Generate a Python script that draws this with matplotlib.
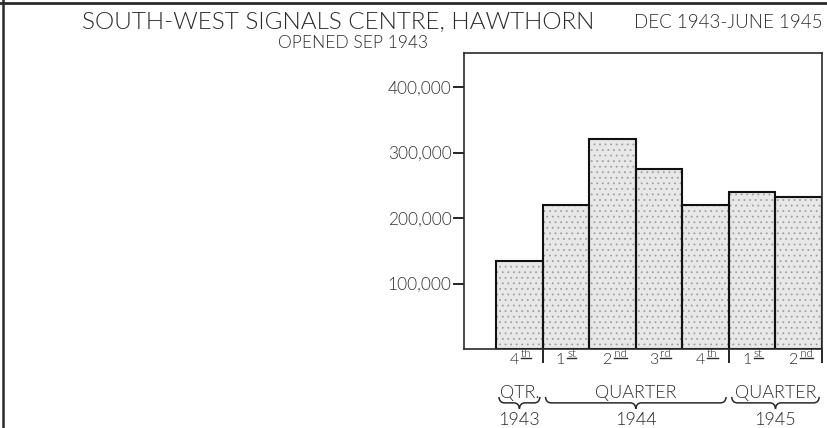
import numpy as np
import matplotlib
matplotlib.use("Agg")
import matplotlib.pyplot as plt
from matplotlib.path import Path
from matplotlib.patches import PathPatch
from matplotlib.lines import Line2D
import matplotlib.transforms as mtransforms

# Data
quarters = ["4", "1", "2", "3", "4", "1", "2"]
suffixes = ["th", "st", "nd", "rd", "th", "st", "nd"]
messages = [135000, 220000, 320000, 275000, 220000, 240000, 232000]
groups = ["QTR.", "QUARTER", "QUARTER"]
years = ["1943", "1944", "1945"]
group_sizes = [1, 4, 2]
yticks = [100000, 200000, 300000, 400000]

plt.rcParams['font.family'] = ['Lato', 'DejaVu Sans']
plt.rcParams['font.weight'] = 300
plt.rcParams['hatch.linewidth'] = 0.6
ink = '#2a2a2a'

fig = plt.figure(figsize=(8.28, 4.28), dpi=100)
ax = fig.add_axes([0.5604, 0.1846, 0.4324, 0.6916])

x = np.arange(len(messages))
# stippled fill
ax.bar(x, messages, width=1.0, color='#e8e8e8', edgecolor='#a0a0a0',
       hatch='...', linewidth=0)
ax.bar(x, messages, width=1.0, facecolor='none', edgecolor='#111111',
       linewidth=1.5)

ax.set_xlim(-1.19, 6.5)
ax.set_ylim(0, 452000)

for s in ax.spines.values():
    s.set_linewidth(1.2)
    s.set_color(ink)

ax.set_yticks(yticks)
ax.set_yticklabels([f"{v:,}" for v in yticks], fontsize=12.5, color='#333333')
ax.tick_params(axis='y', direction='out', length=8, width=1.2, pad=1)

# group boundaries as bottom ticks
bounds = np.cumsum(group_sizes) - 0.5
ax.set_xticks(bounds)
ax.set_xticklabels([])
ax.tick_params(axis='x', direction='out', length=10, width=1.2)

trans = mtransforms.blended_transform_factory(ax.transData, ax.transAxes)

sup_texts = []
for xi, q, suf in zip(x, quarters, suffixes):
    ax.text(xi - 0.02, -0.05, q, transform=trans, ha='right', va='baseline',
            fontsize=11.5, color=ink, clip_on=False)
    t = ax.text(xi + 0.03, -0.026, suf, transform=trans, ha='left',
                va='baseline', fontsize=8.5, color=ink, clip_on=False)
    sup_texts.append(t)

def brace(x0, x1, y, h):
    mid = (x0 + x1) / 2
    r = min(0.12, (x1 - x0) / 6)
    verts = [(x0, y + h), (x0 + 0.01, y), (x0 + r, y),
             (mid - r, y),
             (mid - 0.01, y), (mid, y - h),
             (mid + 0.01, y), (mid + r, y),
             (x1 - r, y),
             (x1 - 0.01, y), (x1, y + h)]
    codes = [Path.MOVETO, Path.CURVE3, Path.CURVE3,
             Path.LINETO,
             Path.CURVE3, Path.CURVE3,
             Path.CURVE3, Path.CURVE3,
             Path.LINETO,
             Path.CURVE3, Path.CURVE3]
    p = PathPatch(Path(verts, codes), transform=trans, fill=False,
                  edgecolor=ink, linewidth=1.1, clip_on=False)
    ax.add_patch(p)

start = -0.5
for g, yr, n in zip(groups, years, group_sizes):
    end = start + n
    cx = (start + end) / 2
    ax.text(cx, -0.166, g, transform=trans, ha='center', va='baseline',
            fontsize=13, color=ink, clip_on=False)
    brace(start + 0.06, end - 0.06, -0.182, 0.02)
    ax.text(cx, -0.257, yr, transform=trans, ha='center', va='baseline',
            fontsize=13, color=ink, clip_on=False)
    start = end

fig.text(82 / 828, 1 - 28 / 428, "SOUTH-WEST SIGNALS CENTRE, HAWTHORN",
         fontsize=17.5, color=ink, ha='left', va='baseline')
fig.text(823 / 828, 1 - 28 / 428, "DEC 1943-JUNE 1945",
         fontsize=13.5, color=ink, ha='right', va='baseline')
fig.text(353 / 828, 1 - 48 / 428, "OPENED SEP 1943",
         fontsize=12.5, color=ink, ha='center', va='baseline')

# partial frame around the page
fig.add_artist(Line2D([0, 1], [0.992, 0.992], transform=fig.transFigure,
                      color=ink, linewidth=2.0))
fig.add_artist(Line2D([0.004, 0.004], [0, 1], transform=fig.transFigure,
                      color=ink, linewidth=1.8))

# underline the ordinal suffixes
fig.canvas.draw()
inv = fig.transFigure.inverted()
for t in sup_texts:
    bb = t.get_window_extent().transformed(inv)
    fig.add_artist(Line2D([bb.x0, bb.x1], [bb.y0 + 0.001] * 2,
                          transform=fig.transFigure, color=ink, linewidth=1.0))

fig.savefig("out.png", dpi=100)
